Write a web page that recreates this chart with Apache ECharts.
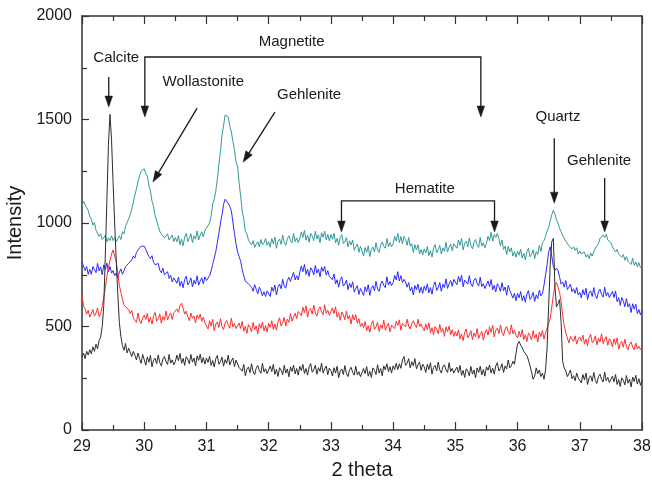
<!DOCTYPE html>
<html>
<head>
<meta charset="utf-8">
<script src="https://cdn.jsdelivr.net/npm/echarts@6/dist/echarts.min.js"></script>
<style>
  html, body { margin: 0; padding: 0; background: #fff; }
  #chart { width: 652px; height: 485px; }
</style>
</head>
<body>
<div id="chart"></div>
<script>
// 2-theta sampling grid of the diffraction scans (29.000 ... 38.000)
const thetaStart = 29;
const thetaStep = 0.025;

// Diffracted intensity (counts); each row covers 0.5 degree of 2-theta
const scanBlack = [
  352, 372, 345, 380, 362, 388, 368, 402, 380, 415, 392, 432, 450, 500, 600, 850, 1110, 1380, 1525, 1400,
  1190, 1000, 820, 660, 520, 452, 408, 385, 418, 372, 395, 402, 355, 380, 362, 338, 372, 345, 322, 365,
  340, 313, 353, 327, 360, 305, 337, 347, 320, 363, 325, 310, 343, 355, 330, 317, 365, 323, 339, 315,
  330, 362, 335, 370, 322, 346, 312, 354, 342, 320, 365, 328, 348, 310, 358, 336, 366, 324, 350, 318,
  347, 326, 356, 312, 336, 304, 344, 360, 318, 330, 352, 308, 340, 322, 362, 314, 334, 348, 306, 338,
  340, 302, 310, 284, 317, 262, 294, 304, 277, 320, 282, 267, 300, 312, 287, 274, 322, 280, 296, 272,
  277, 309, 282, 317, 269, 293, 259, 301, 289, 267, 312, 275, 295, 257, 305, 283, 313, 271, 297, 265,
  308, 287, 317, 273, 297, 265, 305, 321, 279, 291, 313, 269, 301, 283, 323, 275, 295, 309, 267, 299,
  288, 261, 301, 275, 308, 253, 285, 295, 268, 311, 273, 258, 291, 303, 278, 265, 308, 266, 282, 258,
  265, 297, 272, 306, 260, 284, 254, 300, 288, 268, 315, 275, 297, 262, 310, 290, 320, 282, 306, 275,
  310, 292, 322, 292, 320, 298, 338, 355, 312, 322, 345, 300, 330, 310, 345, 295, 315, 328, 288, 318,
  305, 278, 318, 292, 325, 270, 302, 312, 285, 328, 290, 275, 305, 315, 290, 278, 325, 282, 298, 275,
  272, 304, 277, 312, 264, 288, 254, 296, 284, 262, 307, 270, 290, 252, 300, 278, 308, 266, 292, 260,
  305, 289, 314, 275, 299, 270, 310, 325, 285, 298, 320, 278, 310, 295, 338, 300, 310, 332, 318, 370,
  415, 428, 410, 398, 380, 372, 360, 338, 310, 280, 245, 260, 300, 272, 290, 258, 275, 245, 290, 400,
  600, 800, 910, 925, 700, 595, 610, 630, 520, 330, 300, 285, 258, 272, 290, 248, 262, 238, 275, 252,
  255, 228, 268, 242, 275, 220, 252, 262, 235, 278, 240, 225, 258, 270, 245, 232, 280, 238, 254, 230,
  228, 260, 233, 268, 220, 244, 210, 252, 240, 218, 263, 226, 246, 208, 256, 234, 264, 222, 248, 216,
  240
];

const scanRed = [
  650, 598, 585, 560, 578, 545, 552, 582, 550, 565, 590, 548, 560, 600, 640, 690, 740, 785, 820, 850,
  870, 840, 815, 760, 700, 665, 632, 605, 595, 600, 582, 562, 578, 540, 548, 520, 565, 528, 515, 542,
  555, 534, 564, 520, 544, 512, 552, 568, 526, 538, 560, 516, 548, 530, 575, 532, 552, 566, 534, 566,
  572, 585, 568, 602, 612, 588, 560, 574, 548, 528, 565, 540, 550, 518, 555, 538, 560, 525, 545, 518,
  515, 488, 528, 502, 535, 480, 512, 522, 495, 538, 500, 485, 518, 530, 505, 492, 540, 498, 514, 490,
  485, 517, 490, 525, 477, 501, 467, 509, 497, 475, 520, 483, 503, 465, 513, 491, 521, 479, 505, 473,
  515, 496, 528, 486, 512, 482, 524, 542, 502, 518, 544, 502, 536, 520, 562, 526, 546, 564, 538, 572,
  580, 553, 593, 567, 600, 545, 577, 587, 560, 603, 565, 550, 583, 595, 570, 557, 605, 563, 579, 555,
  560, 590, 562, 595, 545, 567, 530, 570, 556, 532, 575, 536, 553, 512, 557, 532, 557, 516, 538, 500,
  515, 494, 524, 480, 504, 472, 512, 528, 486, 498, 520, 476, 508, 490, 530, 482, 502, 516, 474, 506,
  512, 490, 525, 505, 532, 482, 515, 520, 498, 535, 502, 488, 515, 528, 508, 495, 535, 500, 512, 492,
  480, 512, 485, 518, 470, 494, 460, 500, 488, 466, 510, 472, 490, 452, 498, 475, 502, 460, 484, 452,
  475, 454, 484, 440, 464, 432, 472, 488, 446, 458, 480, 436, 468, 450, 490, 442, 462, 476, 434, 466,
  485, 458, 498, 472, 505, 450, 482, 492, 465, 508, 470, 455, 488, 500, 475, 462, 508, 465, 482, 458,
  445, 477, 450, 485, 437, 461, 427, 469, 457, 435, 480, 443, 463, 425, 473, 451, 481, 439, 470, 492,
  490, 540, 595, 650, 700, 712, 690, 665, 620, 555, 505, 470, 445, 420, 452, 438, 428, 455, 415, 440,
  450, 429, 459, 415, 439, 407, 447, 463, 421, 433, 455, 411, 443, 425, 465, 417, 437, 451, 409, 441,
  430, 402, 440, 413, 445, 390, 418, 428, 400, 438, 402, 388, 415, 425, 400, 388, 420, 392, 405, 388,
  400
];

const scanBlue = [
  810, 810, 770, 790, 752, 776, 752, 790, 782, 760, 805, 768, 788, 750, 798, 776, 806, 764, 790, 758,
  770, 745, 758, 735, 762, 778, 752, 770, 790, 782, 805, 798, 822, 840, 830, 858, 870, 862, 888, 880,
  888, 872, 865, 838, 828, 842, 810, 798, 790, 805, 772, 760, 782, 750, 745, 765, 732, 748, 715, 735,
  730, 709, 739, 695, 719, 687, 727, 743, 701, 713, 735, 691, 723, 705, 745, 700, 720, 735, 705, 740,
  722, 730, 745, 768, 800, 830, 862, 905, 950, 1000, 1040, 1090, 1115, 1120, 1095, 1080, 1060, 1005, 950, 900,
  860, 838, 815, 775, 745, 720, 728, 705, 712, 690, 670, 702, 680, 658, 690, 672, 648, 668, 645, 672,
  665, 645, 690, 670, 700, 652, 690, 705, 682, 728, 695, 685, 722, 738, 718, 710, 762, 725, 745, 725,
  760, 792, 765, 800, 752, 776, 742, 784, 772, 750, 795, 758, 778, 740, 788, 766, 790, 748, 770, 742,
  750, 726, 754, 706, 726, 690, 726, 740, 695, 705, 724, 678, 708, 688, 716, 666, 684, 697, 655, 684,
  675, 650, 692, 668, 702, 650, 684, 697, 673, 718, 682, 670, 705, 720, 698, 688, 740, 700, 718, 698,
  712, 747, 725, 765, 720, 746, 712, 728, 715, 690, 712, 672, 690, 652, 698, 678, 705, 662, 690, 660,
  695, 674, 706, 662, 688, 656, 698, 716, 674, 688, 712, 670, 704, 688, 730, 684, 706, 722, 694, 728,
  730, 702, 742, 716, 748, 692, 724, 732, 705, 746, 707, 692, 724, 734, 708, 695, 738, 693, 707, 683,
  690, 720, 693, 727, 677, 699, 667, 707, 693, 669, 712, 673, 691, 651, 699, 675, 681, 637, 661, 625,
  660, 639, 669, 625, 649, 617, 657, 673, 631, 643, 665, 621, 653, 635, 675, 648, 660, 700, 750, 800,
  860, 885, 840, 790, 770, 782, 772, 740, 705, 715, 690, 722, 678, 690, 705, 668, 682, 660, 688, 652,
  665, 638, 678, 652, 685, 630, 662, 672, 645, 688, 650, 635, 668, 680, 655, 642, 690, 648, 664, 640,
  640, 670, 640, 672, 620, 640, 602, 640, 622, 596, 635, 595, 610, 568, 610, 584, 608, 562, 582, 556,
  578
];

const scanTeal = [
  1082, 1105, 1088, 1075, 1060, 1032, 1018, 990, 1002, 965, 958, 935, 948, 920, 925, 940, 910, 928, 915, 938,
  915, 930, 908, 925, 938, 920, 958, 948, 985, 1002, 1020, 1040, 1068, 1100, 1135, 1165, 1200, 1228, 1250, 1258,
  1262, 1238, 1228, 1180, 1155, 1105, 1080, 1035, 1010, 985, 960, 948, 955, 928, 935, 948, 918, 925, 942, 910,
  930, 909, 939, 895, 922, 890, 932, 950, 910, 925, 948, 905, 938, 922, 962, 918, 942, 958, 932, 965,
  975, 980, 1000, 1035, 1090, 1115, 1155, 1210, 1285, 1345, 1425, 1470, 1522, 1530, 1512, 1470, 1440, 1395, 1355, 1295,
  1275, 1195, 1130, 1055, 1020, 960, 948, 918, 905, 895, 915, 882, 898, 910, 885, 920, 895, 905, 925, 892,
  910, 883, 925, 900, 932, 878, 912, 922, 897, 942, 905, 892, 925, 938, 915, 904, 950, 910, 928, 905,
  925, 957, 930, 965, 917, 941, 907, 949, 937, 915, 960, 923, 943, 905, 953, 931, 961, 919, 945, 913,
  945, 922, 950, 904, 926, 892, 930, 944, 900, 910, 930, 884, 914, 894, 918, 868, 886, 898, 858, 888,
  865, 840, 882, 858, 890, 838, 872, 884, 860, 905, 870, 858, 893, 908, 888, 878, 925, 885, 905, 885,
  900, 935, 912, 950, 905, 935, 900, 935, 920, 892, 930, 888, 900, 858, 895, 870, 895, 850, 872, 845,
  875, 855, 886, 842, 866, 836, 878, 896, 856, 870, 892, 850, 880, 864, 906, 860, 882, 898, 866, 900,
  905, 878, 918, 892, 925, 870, 902, 912, 885, 928, 890, 875, 908, 920, 895, 882, 930, 888, 904, 880,
  902, 936, 915, 955, 912, 945, 930, 950, 925, 890, 918, 872, 888, 848, 888, 860, 880, 840, 862, 835,
  865, 844, 874, 830, 854, 822, 862, 878, 836, 848, 870, 828, 862, 848, 892, 862, 905, 915, 935, 960,
  980, 1010, 1040, 1062, 1045, 1015, 1000, 975, 958, 940, 925, 912, 920, 890, 898, 875, 885, 868, 880, 850,
  865, 850, 842, 860, 835, 848, 828, 855, 840, 862, 878, 872, 900, 925, 918, 942, 930, 945, 918, 925,
  905, 885, 890, 860, 872, 850, 858, 835, 848, 820, 838, 815, 822, 800, 830, 795, 812, 788, 808, 785,
  795
];

// Axis ranges and tick spacing
const thetaMin = 29, thetaMax = 38, thetaTick = 1;
const intensityMin = 0, intensityMax = 2000, intensityTick = 500;

// Phase labels, anchored in (2θ, intensity) units
const phaseLabels = [
  { text: 'Calcite',      at: [29.55, 1797] },
  { text: 'Magnetite',    at: [32.37, 1874] },
  { text: 'Wollastonite', at: [30.95, 1680] },
  { text: 'Gehlenite',    at: [32.65, 1618] },
  { text: 'Hematite',     at: [34.51, 1164] },
  { text: 'Quartz',       at: [36.65, 1512] },
  { text: 'Gehlenite',    at: [37.31, 1300] }
];

// Single pointer arrows: tail -> head
const pointerArrows = [
  [[29.43, 1705], [29.43, 1560]],
  [[30.85, 1555], [30.14, 1198]],
  [[32.10, 1536], [31.59, 1294]],
  [[36.59, 1410], [36.59, 1096]],
  [[37.40, 1217], [37.40, 956]]
];

// Bracket markers: [left θ, right θ, bar level, tip level]
const bracketMarks = [
  [30.01, 35.41, 1802, 1512],
  [33.17, 35.63, 1107, 956]
];

function pairs(values) {
  return values.map((v, i) => [+(thetaStart + i * thetaStep).toFixed(3), v]);
}

const FONT = '"Liberation Sans", Arial, sans-serif';
const INK = '#1a1a1a';

const chart = echarts.init(document.getElementById('chart'), null, { renderer: 'canvas' });

function lineSeries(name, values, color) {
  return {
    name: name,
    type: 'line',
    data: pairs(values),
    showSymbol: false,
    symbol: 'none',
    lineStyle: { color: color, width: 1 },
    itemStyle: { color: color },
    animation: false
  };
}

const axisLine = { show: true, onZero: false, lineStyle: { color: '#333', width: 1.5 } };
const tickStyle = { color: '#333', width: 1.2 };

chart.setOption({
  backgroundColor: '#fff',
  animation: false,
  grid: { left: 82, right: 10, top: 16, bottom: 55, containLabel: false, outerBoundsMode: 'none' },
  xAxis: [
    {
      type: 'value', position: 'bottom',
      min: thetaMin, max: thetaMax, interval: thetaTick,
      axisLine: axisLine,
      axisTick: { show: true, inside: true, length: 8, lineStyle: tickStyle },
      minorTick: { show: true, splitNumber: 2, length: 5, lineStyle: tickStyle },
      splitLine: { show: false },
      axisLabel: { color: INK, fontFamily: FONT, fontSize: 16, margin: 9, formatter: v => String(v) },
      name: '2 theta', nameLocation: 'middle', nameGap: 30,
      nameTextStyle: { color: INK, fontFamily: FONT, fontSize: 20 }
    },
    {
      type: 'value', position: 'top',
      min: thetaMin, max: thetaMax, interval: thetaTick,
      axisLine: axisLine,
      axisTick: { show: true, inside: true, length: 8, lineStyle: tickStyle },
      minorTick: { show: true, splitNumber: 2, length: 5, lineStyle: tickStyle },
      splitLine: { show: false },
      axisLabel: { show: false }
    }
  ],
  yAxis: [
    {
      type: 'value', position: 'left',
      min: intensityMin, max: intensityMax, interval: intensityTick,
      axisLine: axisLine,
      axisTick: { show: true, inside: true, length: 7, lineStyle: tickStyle },
      minorTick: { show: true, splitNumber: 2, length: 5, lineStyle: tickStyle },
      splitLine: { show: false },
      axisLabel: { color: INK, fontFamily: FONT, fontSize: 16, margin: 10, formatter: v => String(v) },
      name: 'Intensity', nameLocation: 'middle', nameGap: 54,
      nameTextStyle: { color: INK, fontFamily: FONT, fontSize: 20 }
    },
    {
      type: 'value', position: 'right',
      min: intensityMin, max: intensityMax, interval: intensityTick,
      axisLine: axisLine,
      axisTick: { show: false },
      splitLine: { show: false },
      axisLabel: { show: false }
    }
  ],
  series: [
    lineSeries('teal', scanTeal, '#339999'),
    lineSeries('blue', scanBlue, '#2a2aff'),
    lineSeries('red', scanRed, '#ff2e2e'),
    lineSeries('black', scanBlack, '#2d2d2d')
  ]
});

// Annotation layer, placed through the chart's own coordinate conversion
function px(pt) {
  return chart.convertToPixel({ xAxisIndex: 0, yAxisIndex: 0 }, pt);
}

function arrowHead(tip, from) {
  const dx = tip[0] - from[0], dy = tip[1] - from[1];
  const len = Math.hypot(dx, dy) || 1;
  const ux = dx / len, uy = dy / len;
  const L = 11, W = 3.8;
  const bx = tip[0] - ux * L, by = tip[1] - uy * L;
  return {
    base: [bx, by],
    shape: {
      type: 'polygon',
      shape: { points: [tip, [bx - uy * W, by + ux * W], [bx + uy * W, by - ux * W]] },
      style: { fill: INK, stroke: INK, lineWidth: 0.5 },
      silent: true
    }
  };
}

const gfx = [];
const stroke = { stroke: INK, lineWidth: 1.3, fill: null };

pointerArrows.forEach(([a, b]) => {
  const p0 = px(a), p1 = px(b);
  const head = arrowHead(p1, p0);
  gfx.push({ type: 'polyline', shape: { points: [p0, head.base] }, style: stroke, silent: true });
  gfx.push(head.shape);
});

bracketMarks.forEach(([l, r, bar, tip]) => {
  const lt = px([l, tip]), lb = px([l, bar]), rb = px([r, bar]), rt = px([r, tip]);
  const hl = arrowHead(lt, lb), hr = arrowHead(rt, rb);
  gfx.push({ type: 'polyline', shape: { points: [hl.base, lb, rb, hr.base] }, style: stroke, silent: true });
  gfx.push(hl.shape, hr.shape);
});

phaseLabels.forEach(({ text, at }) => {
  const p = px(at);
  gfx.push({
    type: 'text', x: p[0], y: p[1], silent: true,
    style: { text: text, fill: INK, font: '15px ' + FONT, align: 'center', verticalAlign: 'middle' }
  });
});

chart.setOption({ graphic: gfx });
</script>
</body>
</html>
